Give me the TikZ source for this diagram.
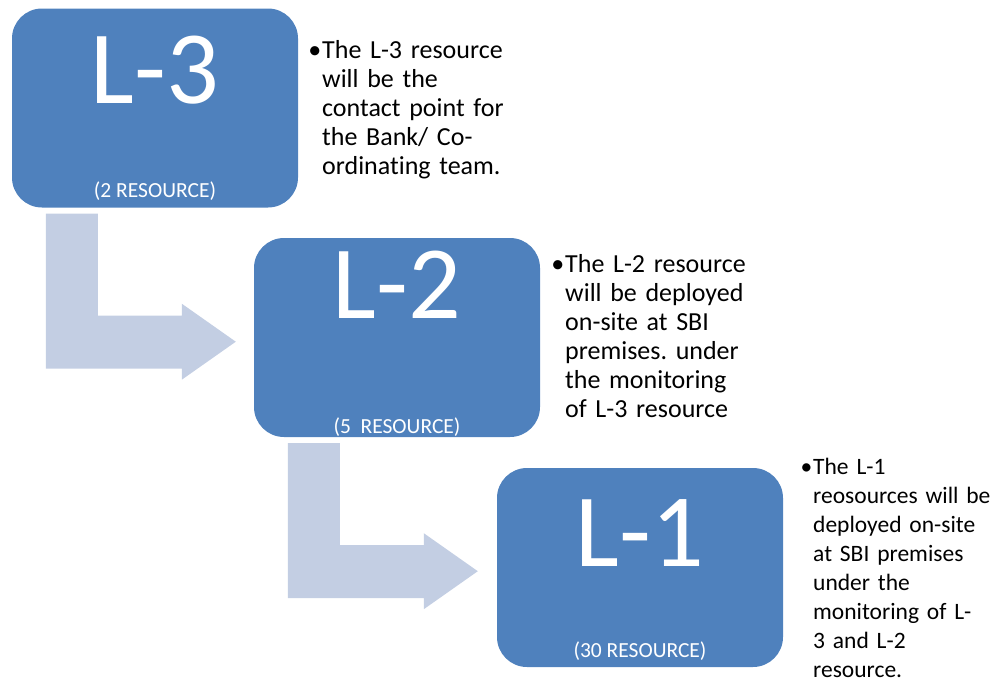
\documentclass[tikz,border=0pt]{standalone}
\usepackage{fontspec}
\setmainfont{Carlito}[Ligatures=NoCommon]
\usepackage{tikz}
\usetikzlibrary{calc}
\definecolor{boxblue}{RGB}{79,129,189}
\definecolor{arrowgrey}{RGB}{195,206,227}

\begin{document}
\begin{tikzpicture}[x=1pt,y=-1pt]
			\tikzstyle{level}=[rectangle,rounded corners=30pt,fill=boxblue,minimum width=286pt,minimum height=199pt,inner sep=0pt]
			\tikzstyle{bigtag}=[anchor=base,text=white,inner sep=0pt,font=\fontsize{104}{104}\selectfont]
			\tikzstyle{headcount}=[anchor=base,text=white,inner sep=0pt,font=\fontsize{21.5}{22}\selectfont]
			\tikzstyle{note}=[anchor=base west,align=left,text width=230pt,inner sep=0pt,font=\fontsize{26}{29}\selectfont]
			\tikzstyle{bentarrow}=[fill=arrowgrey]
			\useasboundingbox (0,0) rectangle (999,681);
			\node (l3)[level] at (155,108) {};
			\node (l2)[level] at (397,337.5) {};
			\node (l1)[level] at (640,567.5) {};
			\foreach \from in {l3,l2}
				\fill[bentarrow] ($(\from.south west)+(34,6)$) -- ++(52,0) -- ++(0,102) -- ++(84,0) -- ++(0,-12)
					-- ++(54,38) -- ++(-54,38) -- ++(0,-11) -- ++(-136,0) -- cycle;
			\node (l3tag)[bigtag] at (155,103) {L-3};
			\node (l2tag)[bigtag] at (397,318) {L-2};
			\node (l1tag)[bigtag] at (640,566) {L-1};
			\node (l3count)[headcount] at (155,197) {(2 RESOURCE)};
			\node (l2count)[headcount] at (397,433) {(5\ \ RESOURCE)};
			\node (l1count)[headcount] at (640,657) {(30 RESOURCE)};
			\node (l3note)[note] at (322,58) {\llap{\textbullet\hspace{1pt}}The L-3 resource\\will be the\\contact point for\\the Bank/ Co-\\ordinating team.};
			\node (l2note)[note] at (565,272) {\llap{\textbullet\hspace{1pt}}The L-2 resource\\will be deployed\\on-site at SBI\\premises.\ under\\the monitoring\\of L-3 resource};
			\node (l1note)[note,font=\fontsize{23.5}{29}\selectfont] at (813,474) {\llap{\textbullet\hspace{1pt}}The L-1\\reosources will be\\deployed on-site\\at SBI premises\\under the\\monitoring of L-\\3 and L-2\\resource.};
		\end{tikzpicture}
\end{document}
